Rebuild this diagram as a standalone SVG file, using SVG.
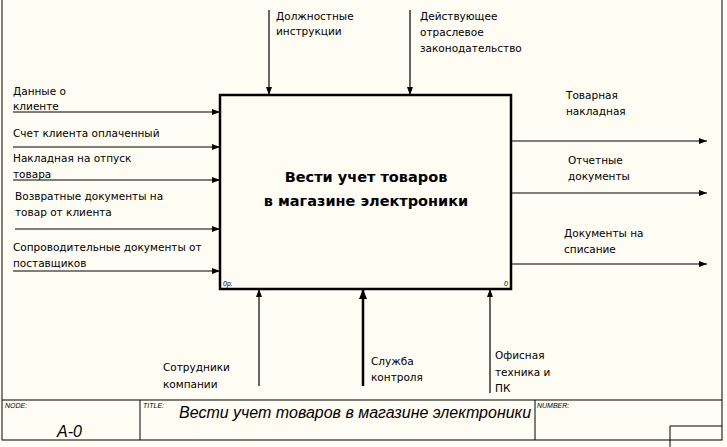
<svg xmlns="http://www.w3.org/2000/svg" width="727" height="447" viewBox="0 0 727 447">
<defs>
<style>
.t{font-family:"DejaVu Sans","Liberation Sans",sans-serif;font-size:10.5px;fill:#000}
.ln{stroke:#000;stroke-width:1.2;fill:none}
.sm{font-family:"Liberation Sans",sans-serif;font-size:7px;font-style:italic}
</style>
<marker id="a" markerWidth="8" markerHeight="6" refX="8" refY="3" orient="auto" markerUnits="userSpaceOnUse"><path d="M0,0L8,3L0,6z" fill="#000"/></marker>
<marker id="b" markerWidth="10" markerHeight="8" refX="10" refY="4" orient="auto" markerUnits="userSpaceOnUse"><path d="M0,0L10,4L0,8z" fill="#000"/></marker>
</defs>
<rect width="727" height="447" fill="#fffcf3"/>
<rect x="2" y="-1" width="720" height="441" fill="none" stroke="#000"/>
<g id="frame" fill="none" stroke="#000">
<line x1="2" y1="400" x2="722" y2="400"/>
<line x1="140" y1="400" x2="140" y2="440"/>
<line x1="535" y1="400" x2="535" y2="440"/>
<polyline points="670,447 670,426 722,426"/>
</g>
<g id="labels-frame">
<text class="sm" x="5" y="408">NODE:</text>
<text class="sm" x="143" y="408">TITLE:</text>
<text class="sm" x="537" y="408">NUMBER:</text>
<text x="57" y="437" font-family="Liberation Sans,sans-serif" font-size="16" font-style="italic">A-0</text>
<text x="179" y="418" font-family="Liberation Sans,sans-serif" font-size="16" font-style="italic">Вести учет товаров в магазине электроники</text>
</g>
<g id="node-A0">
<rect x="220" y="95" width="291" height="194" fill="none" stroke="#000" stroke-width="2.5"/>
<text x="366" y="182" text-anchor="middle" font-family="DejaVu Sans,sans-serif" font-size="14.5" font-weight="bold">Вести учет товаров</text>
<text x="366" y="206" text-anchor="middle" font-family="DejaVu Sans,sans-serif" font-size="14.5" font-weight="bold">в магазине электроники</text>
<text class="sm" x="223" y="286">0р.</text>
<text class="sm" x="504" y="286">0</text>
</g>
<g id="connectors">
<line class="ln" x1="13" y1="112" x2="220" y2="112" marker-end="url(#a)"/>
<line class="ln" x1="13" y1="147" x2="220" y2="147" marker-end="url(#a)"/>
<line class="ln" x1="13" y1="180" x2="220" y2="180" marker-end="url(#a)"/>
<line class="ln" x1="15" y1="229" x2="220" y2="229" marker-end="url(#a)"/>
<line class="ln" x1="13" y1="271" x2="220" y2="271" marker-end="url(#a)"/>
<line class="ln" x1="511" y1="141" x2="707" y2="141" marker-end="url(#a)"/>
<line class="ln" x1="511" y1="193" x2="707" y2="193" marker-end="url(#a)"/>
<line class="ln" x1="511" y1="264" x2="707" y2="264" marker-end="url(#a)"/>
<line class="ln" x1="269" y1="10" x2="269" y2="95" marker-end="url(#a)"/>
<line class="ln" x1="410" y1="10" x2="410" y2="95" marker-end="url(#a)"/>
<line class="ln" x1="259" y1="386" x2="259" y2="289" marker-end="url(#a)"/>
<line x1="363" y1="386" x2="363" y2="289" stroke="#000" stroke-width="2.5" marker-end="url(#b)"/>
<line class="ln" x1="490" y1="393" x2="490" y2="289" marker-end="url(#a)"/>
</g>
<g id="text-labels">
<text class="t" x="13" y="95">Данные о</text><text class="t" x="13" y="110">клиенте</text>
<text class="t" x="13" y="137">Счет клиента оплаченный</text>
<text class="t" x="13" y="162">Накладная на отпуск</text><text class="t" x="13" y="178">товара</text>
<text class="t" x="15" y="200">Возвратные документы на</text><text class="t" x="15" y="216">товар от клиента</text>
<text class="t" x="13" y="251">Сопроводительные документы от</text><text class="t" x="13" y="267">поставщиков</text>
<text class="t" x="276" y="20">Должностные</text><text class="t" x="276" y="35">инструкции</text>
<text class="t" x="420" y="20">Действующее</text><text class="t" x="420" y="36">отраслевое</text><text class="t" x="420" y="52">законодательство</text>
<text class="t" x="566" y="99">Товарная</text><text class="t" x="566" y="115">накладная</text>
<text class="t" x="568" y="164">Отчетные</text><text class="t" x="568" y="180">документы</text>
<text class="t" x="564" y="237">Документы на</text><text class="t" x="564" y="253">списание</text>
<text class="t" x="163" y="371">Сотрудники</text><text class="t" x="163" y="388">компании</text>
<text class="t" x="371" y="365">Служба</text><text class="t" x="371" y="381">контроля</text>
<text class="t" x="495" y="359">Офисная</text><text class="t" x="495" y="376">техника и</text><text class="t" x="495" y="392">ПК</text>
</g>
</svg>
